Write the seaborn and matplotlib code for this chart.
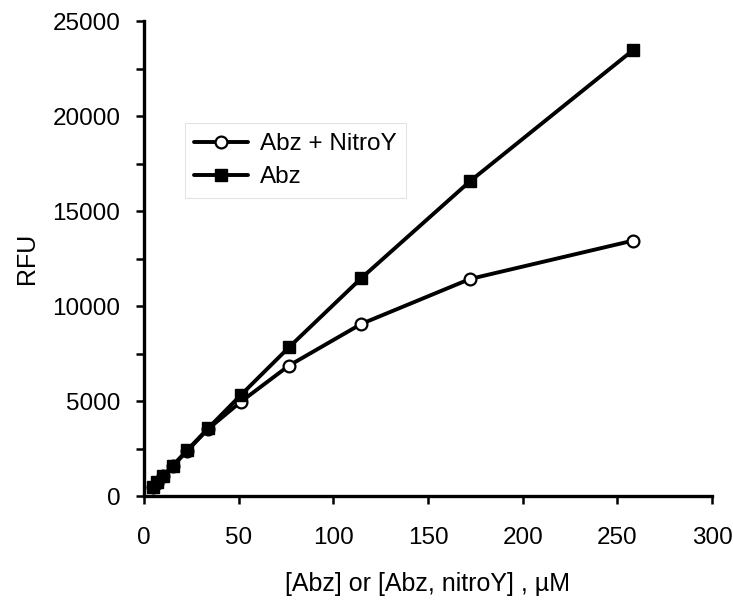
import matplotlib
matplotlib.use("Agg")
import matplotlib.pyplot as plt
import seaborn as sns
import pandas as pd
from matplotlib.ticker import MultipleLocator

conc = [4.5, 6.7, 10.1, 15.1, 22.7, 34.0, 51.0, 76.5, 114.8, 172.1, 258.2]
rfu_abz = [480, 720, 1070, 1600, 2400, 3580, 5300, 7820, 11470, 16560, 23460]
rfu_abz_nitro = [470, 700, 1040, 1560, 2370, 3540, 4950, 6860, 9060, 11420, 13440]
series_names = ["Abz + NitroY", "Abz"]
x_ticks = [0, 50, 100, 150, 200, 250, 300]
y_ticks = [0, 5000, 10000, 15000, 20000, 25000]

sns.set_style("ticks")
plt.rcParams["font.family"] = ["Liberation Sans", "DejaVu Sans"]
plt.rcParams["text.color"] = "black"
plt.rcParams["axes.labelcolor"] = "black"
plt.rcParams["xtick.color"] = "black"
plt.rcParams["ytick.color"] = "black"

df_n = pd.DataFrame({"x": conc, "y": rfu_abz_nitro})
df_a = pd.DataFrame({"x": conc, "y": rfu_abz})

fig = plt.figure(figsize=(7.33, 6.01), dpi=100)
ax = fig.add_axes([0.1965, 0.1747, 0.9713 - 0.1965, 0.965 - 0.1747])

sns.lineplot(data=df_n, x="x", y="y", ax=ax, color="black", linewidth=2.8,
             marker="o", markersize=8.5, markerfacecolor="white",
             markeredgecolor="black", markeredgewidth=1.6,
             label=series_names[0], zorder=3)
sns.lineplot(data=df_a, x="x", y="y", ax=ax, color="black", linewidth=2.8,
             marker="s", markersize=8.5, markerfacecolor="black",
             markeredgecolor="black", markeredgewidth=1.0,
             label=series_names[1], zorder=4)

ax.set_xlim(0, 300)
ax.set_ylim(0, 25000)
ax.set_xticks(x_ticks)
ax.set_yticks(y_ticks)
ax.yaxis.set_minor_locator(MultipleLocator(2500))
ax.tick_params(axis="both", which="major", direction="out", length=6, width=1.8,
               labelsize=17.5, pad=11, color="black", labelcolor="black")
ax.tick_params(axis="y", which="minor", direction="out", length=6, width=1.8,
               color="black")
ax.tick_params(axis="x", which="major", pad=16)

for side in ["top", "right"]:
    ax.spines[side].set_visible(False)
for side in ["left", "bottom"]:
    ax.spines[side].set_linewidth(2.4)
    ax.spines[side].set_color("black")

ax.set_xlabel("[Abz] or [Abz, nitroY] , \u00b5M", fontsize=18, labelpad=17,
              color="black")
ax.set_ylabel("RFU", fontsize=18, labelpad=10, color="black")

leg = ax.legend(loc="upper left", bbox_to_anchor=(0.05, 0.81), fontsize=17.5,
                frameon=True, fancybox=False, handlelength=2.2, handletextpad=0.5,
                borderpad=0.4, labelspacing=0.45)
leg.get_frame().set_edgecolor("#dddddd")
leg.get_frame().set_linewidth(0.8)
for t in leg.get_texts():
    t.set_color("black")

fig.savefig("out.png", dpi=100)
